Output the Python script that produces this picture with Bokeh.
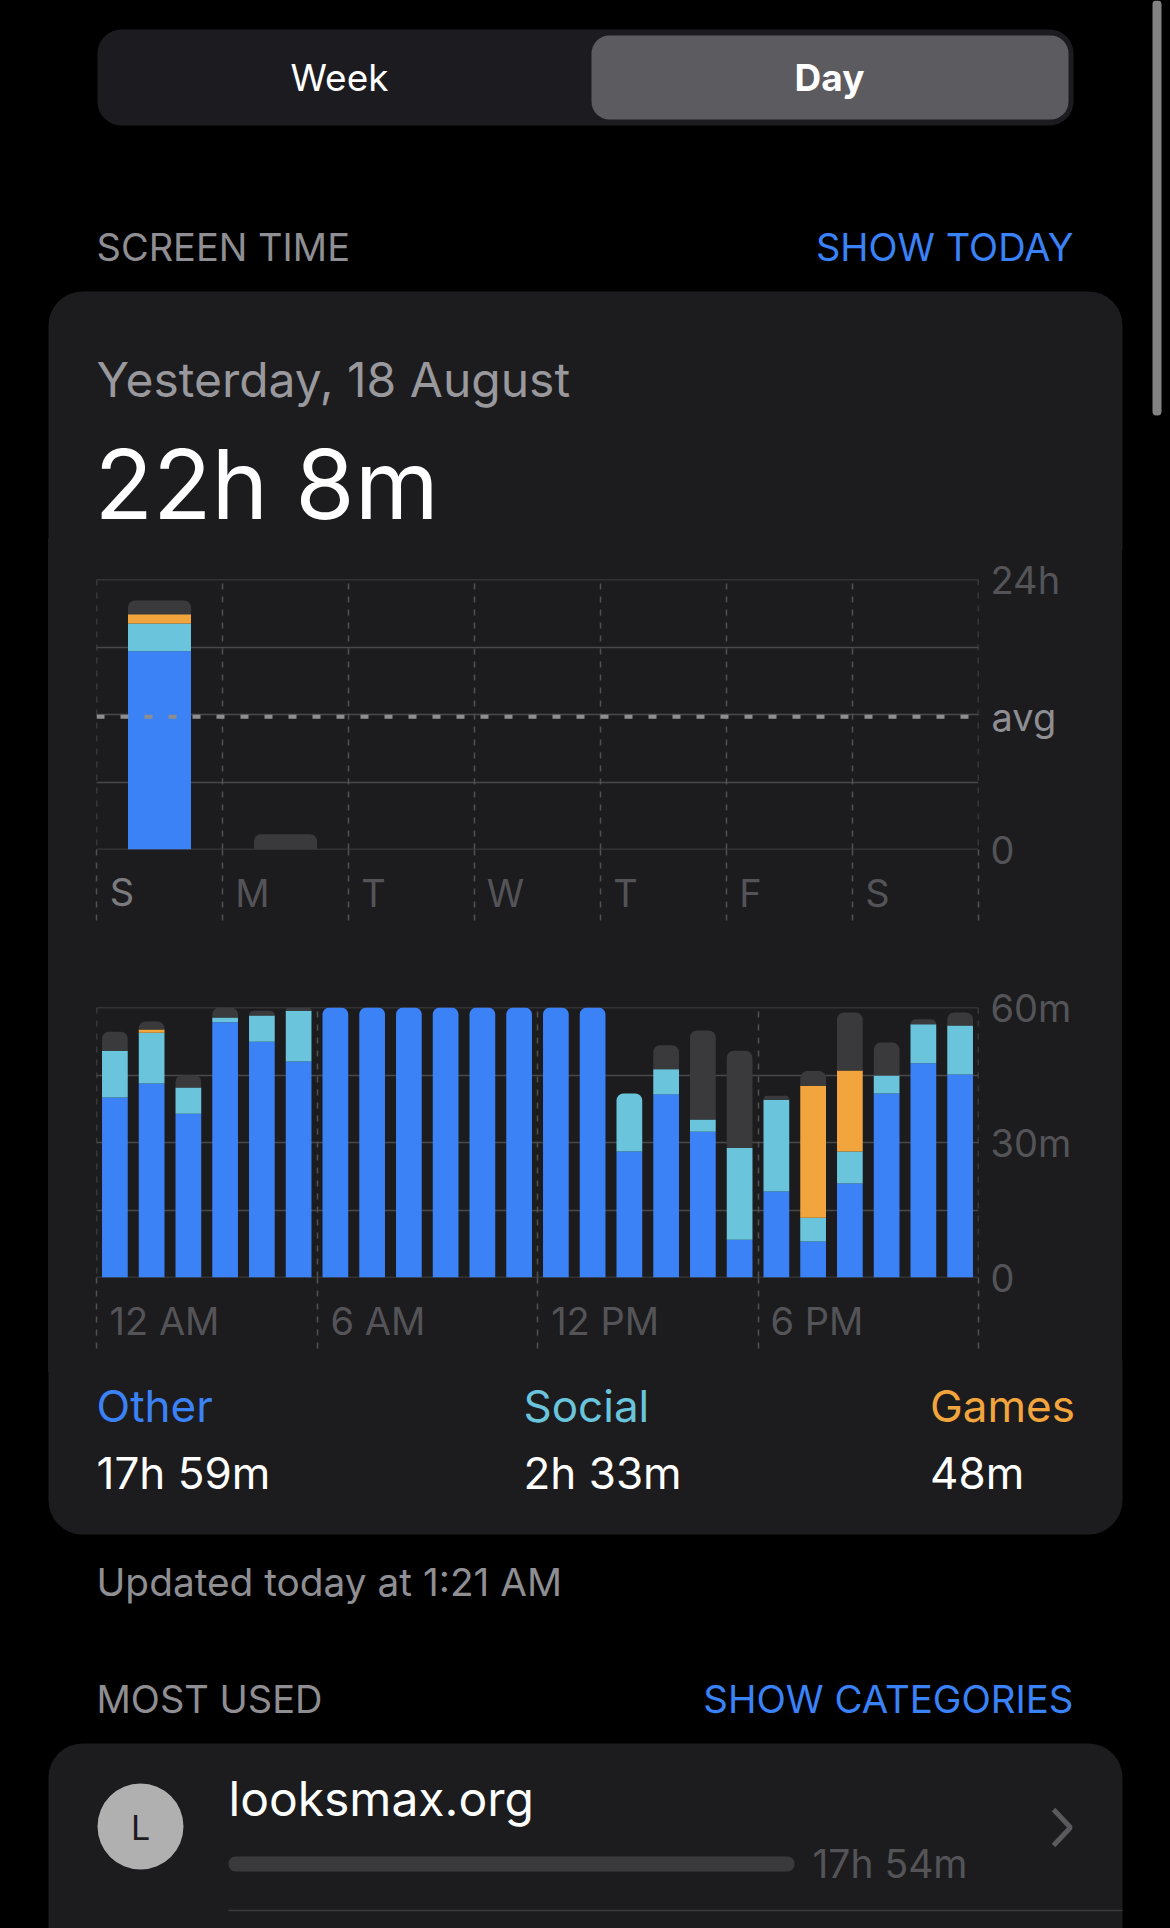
from bokeh.plotting import figure
from bokeh.layouts import column
from bokeh.models import (Range1d, LinearAxis, FixedTicker, Grid, Span)
from bokeh.embed import file_html
from bokeh.resources import INLINE
from bokeh.core.properties import value
import numpy as np

# ---------- data ----------
day_labels = ["S", "M", "T", "W", "T", "F", "S"]
week_other = [17.63, 0, 0, 0, 0, 0, 0]
week_social = [2.46, 0, 0, 0, 0, 0, 0]
week_games = [0.83, 0, 0, 0, 0, 0, 0]
week_rest = [1.21, 1.36, 0, 0, 0, 0, 0]
avg_hours = 11.79

hour_labels = ["12 AM", "6 AM", "12 PM", "6 PM"]
hour_other = [40, 43.1, 36.4, 56.7, 52.4, 48, 60, 60, 60, 60, 60, 60, 60, 60,
              28, 40.7, 32.4, 8.4, 19.1, 8, 20.9, 40.9, 47.6, 45.1]
hour_social = [10.4, 11.3, 5.8, 1.1, 5.8, 11.3, 0, 0, 0, 0, 0, 0, 0, 0,
               12.9, 5.6, 2.7, 20.4, 20.4, 5.3, 7.1, 4, 8.7, 10.9]
hour_games = [0, 0.7, 0, 0, 0, 0, 0, 0, 0, 0, 0, 0, 0, 0,
              0, 0, 0, 0, 0, 29.3, 18, 0, 0, 0]
hour_rest = [4.2, 1.8, 2.8, 2.2, 1.1, 0.7, 0, 0, 0, 0, 0, 0, 0, 0,
             0, 5.3, 19.8, 21.6, 0.9, 3.3, 12.9, 7.3, 1.1, 2.9]

legend_names = ["Other", "Social", "Games"]
legend_values = ["17h 59m", "2h 33m", "48m"]

# ---------- style ----------
FONT = "Inter"
BLACK = "#000000"
CARD = "#1c1c1e"
BLUE = "#3b82f7"
CYAN = "#6ac4dc"
ORANGE = "#f2a53d"
GRAY = "#3a3a3c"
GRID = "#48484a"
DASH = "#505052"
TICK = "#545458"
LIGHT = "#8e8e93"
SELECTED = "#7c7c80"
WHITE = "#ffffff"
COLORS = [BLUE, CYAN, ORANGE, GRAY]
W = 1170
DAY_PX = 882 / 7
HOUR_PX = 882 / 24
# horizontal centre of each x label, in px right of its dashed boundary
day_label_shift = [25.5, 30, 25, 31, 25, 24, 25]
hour_label_shift = [68, 61, 67.6, 59]


def chrome_fig(top, bottom, strip):
    bg = f"linear-gradient({CARD},{CARD}) 48px {strip}/1074px 12px no-repeat, {BLACK}"
    f = figure(width=W, height=bottom - top, output_backend="svg", toolbar_location=None,
               x_range=Range1d(0, W), y_range=Range1d(bottom, top),
               min_border=0, x_axis_type=None, y_axis_type=None,
               styles={"background": bg})
    f.frame_align = False
    f.outline_line_color = None
    f.grid.visible = False
    f.background_fill_color = None
    f.border_fill_color = None
    return f


def txt(f, x, y, s, size, color, align="left", style="normal"):
    f.text([x], [y], text=[s], text_font=value(FONT), text_font_size=value(f"{size}px"),
           text_color=color, text_align=align, text_baseline="middle", text_font_style=style)


def plain_axis(ax, color, standoff):
    ax.axis_line_color = None
    ax.major_tick_line_color = None
    ax.minor_tick_line_color = None
    ax.major_tick_in = 0
    ax.major_tick_out = 0
    ax.major_label_text_font = FONT
    ax.major_label_text_font_size = "38px"
    ax.major_label_text_color = color
    ax.major_label_standoff = standoff


def chart_fig(height, top_border, x_max, y_max, grid_ticks, vticks, label_ticks, labels, unit_ticks, unit_labels):
    f = figure(width=1122, height=height, output_backend="svg", toolbar_location=None,
               x_range=Range1d(0, x_max), y_range=Range1d(0, y_max),
               x_axis_type=None, y_axis_type=None, margin=(0, 0, 0, 48),
               styles={"background": f"linear-gradient(to right, {CARD} 1074px, {BLACK} 1074px)"})
    f.frame_align = False
    f.min_border_left = 48
    f.min_border_right = 192
    f.min_border_top = top_border
    f.min_border_bottom = height - top_border - 270
    f.outline_line_color = None
    f.background_fill_color = None
    f.border_fill_color = None
    f.add_layout(Grid(dimension=1, ticker=FixedTicker(ticks=grid_ticks), grid_line_color=GRID,
                      grid_line_width=1.5))
    f.add_layout(Grid(dimension=0, ticker=FixedTicker(ticks=vticks), grid_line_color=DASH,
                      grid_line_width=1.5, grid_line_dash="6 7"))
    for loc in (0, y_max):
        f.add_layout(Span(location=loc, dimension="width", line_color=GRID, line_width=1.5, level="underlay"))
    for loc in (0, x_max):
        f.add_layout(Span(location=loc, dimension="height", line_color=DASH, line_width=1.5,
                          line_dash="6 7", level="underlay"))
    xa = LinearAxis(ticker=FixedTicker(ticks=label_ticks, minor_ticks=vticks),
                    major_label_overrides=dict(zip(label_ticks, labels)))
    plain_axis(xa, TICK, -51)
    xa.minor_tick_in = 0
    xa.minor_tick_out = 71
    xa.minor_tick_line_color = DASH
    xa.minor_tick_line_width = 1.5
    xa.minor_tick_line_dash = "6 7"
    f.add_layout(xa, "below")
    ya = LinearAxis(ticker=FixedTicker(ticks=[0] + unit_ticks),
                    major_label_overrides={0: "0", **dict(zip(unit_ticks, unit_labels))})
    plain_axis(ya, TICK, 12)
    f.add_layout(ya, "right")
    return f


def stacked(f, xs, series, width, radius):
    xs = np.asarray(xs, dtype=float)
    arr = np.array(series, dtype=float)
    cum = np.cumsum(arr, axis=0)
    last = np.array([np.max(np.nonzero(arr[:, i])[0]) if arr[:, i].any() else -1 for i in range(arr.shape[1])])
    for k, color in enumerate(COLORS):
        lo = cum[k] - arr[k]
        hi = cum[k]
        plain = (arr[k] > 0) & (last != k)
        capped = (arr[k] > 0) & (last == k)
        if plain.any():
            f.vbar(x=xs[plain], width=width, bottom=lo[plain], top=hi[plain], fill_color=color, line_color=None)
        if capped.any():
            f.vbar(x=xs[capped], width=width, bottom=lo[capped], top=hi[capped], fill_color=color,
                   line_color=None, border_radius=(radius, radius, 0, 0))


# ---------- top chrome ----------
top = chrome_fig(0, 550, "bottom")
top.quad(left=[97], right=[1073], top=[29], bottom=[125], fill_color="#1c1c20", line_color=None, border_radius=24)
top.quad(left=[591], right=[1068], top=[35], bottom=[119], fill_color="#5b5b60", line_color=None, border_radius=18)
txt(top, 339, 77, "Week", 37, WHITE, "center")
txt(top, 829, 77, "Day", 37, WHITE, "center", "bold")
txt(top, 96, 246, "SCREEN TIME", 38, LIGHT)
txt(top, 1073, 246, "SHOW TODAY", 38, "#3a82f7", "right")
top.quad(left=[48], right=[1122], top=[291], bottom=[552], fill_color=CARD, line_color=None,
         border_radius=(34, 34, 0, 0))
txt(top, 96, 379, "Yesterday, 18 August", 48, "#98989d")
txt(top, 94, 483, "22h 8m", 96, WHITE)
top.quad(left=[1152], right=[1161], top=[0], bottom=[415], fill_color="#828282", line_color=None, border_radius=4)

# ---------- week chart ----------
week_ticks = [i + s / DAY_PX for i, s in enumerate(day_label_shift)]
week = chart_fig(430, 29, 7, 24, [0, 6, 12, 18, 24], list(range(8)),
                 week_ticks[1:], day_labels[1:], [24], ["24h"])
stacked(week, [i + 0.5 for i in range(7)], [week_other, week_social, week_games, week_rest], 0.5, 7)
week.add_layout(Span(location=avg_hours, dimension="width", line_color="#8e8e8e", line_width=4, line_dash="8 16"))
avg_axis = LinearAxis(ticker=FixedTicker(ticks=[avg_hours]), major_label_overrides={avg_hours: "avg"})
plain_axis(avg_axis, LIGHT, -72)
week.add_layout(avg_axis, "right")
sel_axis = LinearAxis(ticker=FixedTicker(ticks=week_ticks[:1]), major_label_overrides={week_ticks[0]: day_labels[0]})
plain_axis(sel_axis, SELECTED, -50)
week.add_layout(sel_axis, "below")

# ---------- hour chart ----------
hour = chart_fig(380, 27, 24, 60, [0, 15, 30, 45, 60], [0, 6, 12, 18, 24],
                 [h + s / HOUR_PX for h, s in zip([0, 6, 12, 18], hour_label_shift)], hour_labels,
                 [30, 60], ["30m", "60m"])
stacked(hour, [i + 0.5 for i in range(24)], [hour_other, hour_social, hour_games, hour_rest], 0.7, 7)

# ---------- bottom chrome ----------
bot = chrome_fig(1360, 1928, "top")
bot.quad(left=[48], right=[1122], top=[1358], bottom=[1534], fill_color=CARD, line_color=None,
         border_radius=(0, 0, 34, 34))
for x, name, val, col in zip([96, 523, 929.5], legend_names, legend_values, [BLUE, CYAN, ORANGE]):
    txt(bot, x, 1405, name, 44, col)
    txt(bot, x, 1472, val, 44, WHITE)
txt(bot, 96, 1581, "Updated today at 1:21 AM", 38.8, LIGHT)
txt(bot, 96, 1698, "MOST USED", 38, LIGHT)
txt(bot, 1073, 1698, "SHOW CATEGORIES", 38.4, "#3a82f7", "right")
bot.quad(left=[48], right=[1122], top=[1743], bottom=[1990], fill_color=CARD, line_color=None,
         border_radius=(34, 34, 0, 0))
bot.circle(x=[140], y=[1826], radius=43, fill_color="#b0b0b0", line_color=None)
txt(bot, 140, 1827, "L", 34, "#1c1c1e", "center")
txt(bot, 228, 1798, "looksmax.org", 48, WHITE)
bot.quad(left=[228], right=[794], top=[1856], bottom=[1871], fill_color=GRAY, line_color=None, border_radius=7)
txt(bot, 812, 1863, "17h 54m", 39, TICK)
bot.line(x=[1053, 1070, 1053], y=[1809, 1827, 1845], line_color="#5a5a5e", line_width=5)
bot.line(x=[228, 1122], y=[1910, 1910], line_color=GRAY, line_width=1.5)

page = column(top, week, hour, bot, spacing=0, styles={"background-color": BLACK})
open("out.html", "w").write(file_html(page, INLINE))
